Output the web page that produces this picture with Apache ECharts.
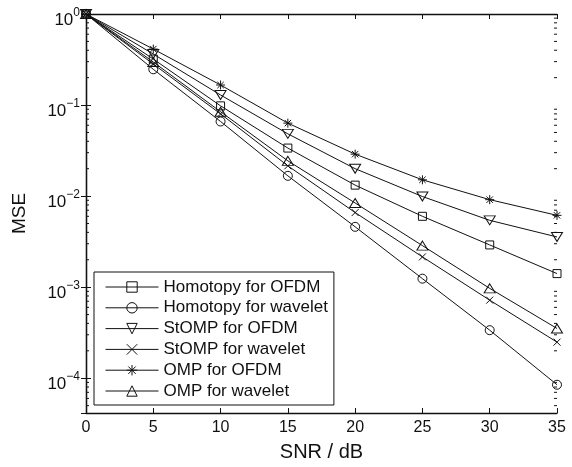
<!DOCTYPE html>
<html>
<head>
<meta charset="utf-8">
<script src="https://cdn.jsdelivr.net/npm/echarts@6/dist/echarts.min.js"></script>
<style>
  html, body { margin: 0; padding: 0; background: #fff; }
  #main { width: 572px; height: 467px; }
</style>
</head>
<body>
<div id="main"></div>
<script>
// SNR in dB
var snr = [0, 5, 10, 15, 20, 25, 30, 35]
var homotopyOfdm = [1, 0.32, 0.098, 0.0337, 0.0132, 0.0060, 0.00291, 0.00141]
var homotopyWavelet = [1, 0.247, 0.066, 0.0167, 0.0046, 0.00124, 0.000337, 0.0000848]
var stompOfdm = [1, 0.363, 0.129, 0.0483, 0.020, 0.0099, 0.00542, 0.00356]
var stompWavelet = [1, 0.282, 0.080, 0.0215, 0.0066, 0.00215, 0.00072, 0.000249]
var ompOfdm = [1, 0.412, 0.166, 0.0633, 0.0289, 0.0151, 0.00914, 0.00615]
var ompWavelet = [1, 0.297, 0.0845, 0.0244, 0.0084, 0.00286, 0.00097, 0.000352]

var seriesNames = ['Homotopy for OFDM', 'Homotopy for wavelet', 'StOMP for OFDM',
  'StOMP for wavelet', 'OMP for OFDM', 'OMP for wavelet']
var xTicks = [0, 5, 10, 15, 20, 25, 30, 35]
var yMin = 4.15e-5
var yMax = 1
// minor log ticks (2..9 x 10^n)
var minorTicks = []
for (var e = -5; e < 0; e++) {
  for (var m = 2; m <= 9; m++) {
    var v = m * Math.pow(10, e)
    if (v > yMin && v < yMax) minorTicks.push(v)
  }
}

var font = '"Liberation Sans", Arial, Helvetica, sans-serif'
var ink = '#111'

var crossPath = 'path://M0,0L7,7M7,0L0,7'
var starPath = 'path://M4.5,0L4.5,9M0,4.5L9,4.5M1.3,1.3L7.7,7.7M7.7,1.3L1.3,7.7'

function pairs (ys) {
  return snr.map(function (x, i) { return [x, ys[i]] })
}

function lineSeries (name, ys, symbol, size, rotate) {
  return {
    name: name,
    type: 'line',
    data: pairs(ys),
    symbol: symbol,
    symbolSize: size,
    symbolRotate: rotate || 0,
    showAllSymbol: true,
    lineStyle: { color: ink, width: 1 },
    itemStyle: { color: 'none', borderColor: ink, borderWidth: 1 },
    emphasis: { disabled: true },
    animation: false,
    z: 3
  }
}

function powLabel (val) {
  var lg = Math.log10(val)
  var r = Math.round(lg)
  if (Math.abs(lg - r) > 1e-6) return ''
  var exp = r < 0 ? '\u2212' + (-r) : String(r)
  return '{b|10}{s|' + exp + '}'
}

var chart = echarts.init(document.getElementById('main'))
chart.setOption({
  backgroundColor: '#fff',
  animation: false,
  grid: { left: 86, right: 15, top: 14, bottom: 54 },
  legend: {
    data: seriesNames,
    orient: 'vertical',
    left: 94,
    top: 272,
    itemWidth: 53,
    itemHeight: 13,
    itemGap: 2.8,
    padding: [6, 6, 5, 11],
    borderColor: ink,
    borderWidth: 1,
    backgroundColor: '#fff',
    selectedMode: false,
    lineStyle: { width: 1, color: ink },
    itemStyle: { color: 'none', borderColor: ink, borderWidth: 1 },
    textStyle: { fontFamily: font, fontSize: 17, color: ink, lineHeight: 18 }
  },
  xAxis: [{
    type: 'value',
    min: 0,
    max: 35,
    interval: 5,
    name: 'SNR / dB',
    nameLocation: 'middle',
    nameGap: 29,
    nameTextStyle: { fontFamily: font, fontSize: 20, color: ink },
    axisLine: { lineStyle: { color: ink, width: 1.3 } },
    axisTick: { inside: true, length: 5, lineStyle: { color: ink } },
    axisLabel: { fontFamily: font, fontSize: 16, color: ink, margin: 7 },
    splitLine: { show: false }
  }, {
    type: 'value',
    position: 'top',
    min: 0,
    max: 35,
    interval: 5,
    axisLine: { lineStyle: { color: ink, width: 1.3 } },
    axisTick: { inside: true, length: 5, lineStyle: { color: ink } },
    axisLabel: { show: false },
    splitLine: { show: false }
  }],
  yAxis: [{
    type: 'log',
    min: yMin,
    max: yMax,
    name: 'MSE',
    nameLocation: 'middle',
    nameGap: 57,
    nameTextStyle: { fontFamily: font, fontSize: 19, color: ink },
    axisLine: { lineStyle: { color: ink, width: 1.3 } },
    axisTick: { inside: true, length: 5, lineStyle: { color: ink } },
    axisLabel: {
      formatter: powLabel,
      margin: 6,
      showMinLabel: false,
      padding: [7, 0, 0, 0],
      rich: {
        b: { fontFamily: font, fontSize: 17, color: ink, verticalAlign: 'bottom', lineHeight: 22 },
        s: { fontFamily: font, fontSize: 12, color: ink, verticalAlign: 'top', lineHeight: 22 }
      }
    },
    splitLine: { show: false }
  }, {
    type: 'log',
    position: 'right',
    min: yMin,
    max: yMax,
    axisLine: { lineStyle: { color: ink, width: 1.3 } },
    axisTick: { inside: true, length: 5, lineStyle: { color: ink } },
    axisLabel: { show: false },
    splitLine: { show: false }
  }],
  series: [
    lineSeries(seriesNames[0], homotopyOfdm, 'rect', 8),
    lineSeries(seriesNames[1], homotopyWavelet, 'circle', 9),
    lineSeries(seriesNames[2], stompOfdm, 'triangle', [11, 9], 180),
    lineSeries(seriesNames[3], stompWavelet, crossPath, 7),
    lineSeries(seriesNames[4], ompOfdm, starPath, 9),
    lineSeries(seriesNames[5], ompWavelet, 'triangle', [11, 9]),
    {
      type: 'custom',
      data: minorTicks.map(function (v) { return [0, v] }),
      encode: { x: 0, y: 1 },
      silent: true,
      animation: false,
      renderItem: function (params, api) {
        var v = api.value(1)
        var pl = api.coord([0, v])
        var pr = api.coord([35, v])
        var st = { stroke: ink, lineWidth: 1 }
        return {
          type: 'group',
          children: [
            { type: 'line', shape: { x1: pl[0], y1: pl[1], x2: pl[0] + 3, y2: pl[1] }, style: st },
            { type: 'line', shape: { x1: pr[0], y1: pr[1], x2: pr[0] - 3, y2: pr[1] }, style: st }
          ]
        }
      },
      z: 2
    }
  ]
})
</script>
</body>
</html>
